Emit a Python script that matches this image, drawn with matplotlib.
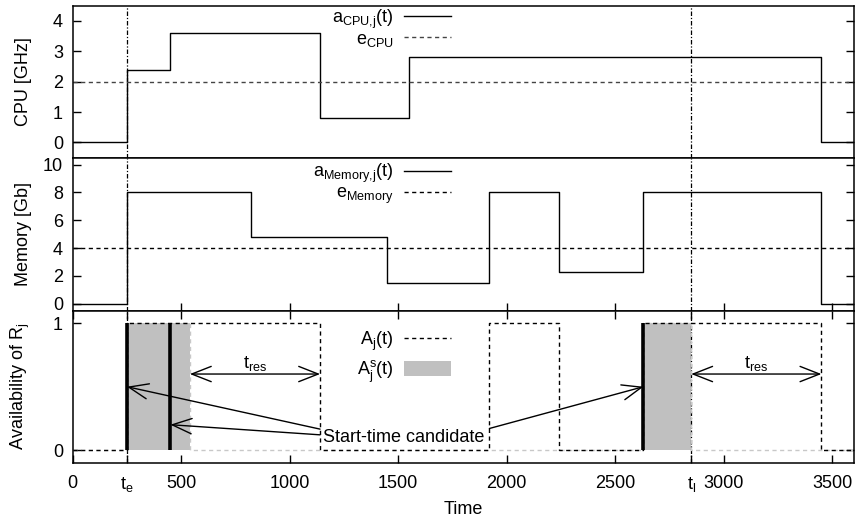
import matplotlib
matplotlib.use("Agg")
import matplotlib.pyplot as plt
from matplotlib.lines import Line2D
from matplotlib.patches import Patch

plt.rcParams['font.family'] = ['Liberation Sans', 'DejaVu Sans']
plt.rcParams['font.size'] = 13
plt.rcParams['mathtext.fontset'] = 'custom'
plt.rcParams['mathtext.rm'] = 'Liberation Sans'
plt.rcParams['mathtext.it'] = 'Liberation Sans:italic'

# data
t_e = 250
t_l = 2850
t_res = 600

cpu_t = [0, 250, 450, 1140, 1550, 3450, 3600]
cpu_v = [0, 2.4, 3.6, 0.8, 2.8, 0, 0]
e_cpu = 2

mem_t = [0, 250, 820, 1450, 1920, 2240, 2630, 3450, 3600]
mem_v = [0, 8, 4.8, 1.5, 8, 2.3, 8, 0, 0]
e_mem = 4

avail_t = [0, 250, 1140, 1920, 2240, 2630, 3450, 3600]
avail_v = [0, 1, 0, 1, 0, 1, 0, 0]

sched_t = [0, 250, 540, 2630, 2850, 3600]
sched_v = [0, 1, 0, 1, 0, 0]

candidates = [250, 450, 2630]

xticks = [0, t_e, 500, 1000, 1500, 2000, 2500, t_l, 3000, 3500]
xticklabels = ['0', r't$_\mathregular{e}$', '500', '1000', '1500', '2000',
               '2500', r't$_\mathregular{l}$', '3000', '3500']

dash = (0, (3, 2.5))
dashdot = (0, (3.6, 1.5, 1, 1.5))

fig = plt.figure(figsize=(8.58, 5.22), dpi=100)
left, width = 0.0847, 0.9106
ax1 = fig.add_axes([left, 0.6979, width, 0.2912])
ax2 = fig.add_axes([left, 0.4048, width, 0.2931])
ax3 = fig.add_axes([left, 0.1136, width, 0.2912])

for ax in (ax1, ax2, ax3):
    ax.set_xlim(0, 3600)
    for s in ax.spines.values():
        s.set_linewidth(1.1)
    ax.tick_params(axis='y', direction='in', length=6, width=1, right=True, pad=7)
    ax.tick_params(axis='x', direction='in', length=6, width=1, pad=9)
    ax.axvline(t_e, color='black', lw=0.9, ls=dashdot)
    ax.axvline(t_l, color='black', lw=0.9, ls=dashdot)
    ax.yaxis.set_label_coords(-0.052, 0.5)

# CPU
ax1.step(cpu_t, cpu_v, where='post', color='black', lw=1, label=r'a$_\mathregular{CPU{,}j}$(t)')
ax1.axhline(e_cpu, color='#444444', lw=1, ls=dash, label=r'e$_\mathregular{CPU}$')
ax1.set_ylim(-0.5, 4.5)
ax1.set_yticks([0, 1, 2, 3, 4])
ax1.set_xticks([])
ax1.set_ylabel('CPU [GHz]')

# Memory
ax2.step(mem_t, mem_v, where='post', color='black', lw=1, label=r'a$_\mathregular{Memory{,}j}$(t)')
ax2.axhline(e_mem, color='black', lw=1, ls=dash, label=r'e$_\mathregular{Memory}$')
ax2.set_ylim(-0.5, 10.5)
ax2.set_yticks([0, 2, 4, 6, 8, 10])
ax2.set_xticks([500, 1000, 1500, 2000, 2500, 3000, 3500])
ax2.tick_params(axis='x', labelbottom=False)
ax2.set_ylabel('Memory [Gb]')

ax1.legend(loc='upper right', bbox_to_anchor=(0.487, 1.0), frameon=False,
           markerfirst=False, handlelength=2.6, handletextpad=0.6,
           labelspacing=0.0, borderpad=0.1, borderaxespad=0)
ax2.legend(loc='upper right', bbox_to_anchor=(0.487, 0.985), frameon=False,
           markerfirst=False, handlelength=2.6, handletextpad=0.6,
           labelspacing=0.0, borderpad=0.1, borderaxespad=0)

# Availability
ax3.fill_between(sched_t, sched_v, step='post', color='#c0c0c0', lw=0)
ax3.step(sched_t, sched_v, where='post', color='#c8c8c8', lw=1, ls=dash)
ax3.step(avail_t, avail_v, where='post', color='black', lw=1, ls=dash)
ax3.vlines(candidates, 0, 1, color='black', lw=2.6)
ax3.set_ylim(-0.1, 1.1)
ax3.set_yticks([0, 1])
ax3.set_xticks(xticks)
ax3.set_xticklabels(xticklabels)
ax3.tick_params(axis='x', top=True)
ax3.set_ylabel(r'Availability of R$_\mathregular{j}$')
ax3.set_xlabel('Time', labelpad=5)

head = dict(arrowstyle='->,head_length=1.4,head_width=0.55', color='black',
            lw=1, mutation_scale=10, shrinkA=0, shrinkB=0)
dhead = dict(arrowstyle='<->,head_length=1.4,head_width=0.55', color='black',
             lw=1, mutation_scale=10, shrinkA=0, shrinkB=0)

ax3.annotate('', xy=(candidates[0], 0.5), xytext=(1140, 0.165), arrowprops=head)
ax3.annotate('', xy=(candidates[1], 0.2), xytext=(1140, 0.12), arrowprops=head)
ax3.annotate('', xy=(candidates[2], 0.5), xytext=(1920, 0.17), arrowprops=head)
ax3.text(1525, 0.1, 'Start-time candidate', ha='center', va='center')

ax3.annotate('', xy=(1140 - t_res, 0.6), xytext=(1140, 0.6), arrowprops=dhead)
ax3.annotate('', xy=(t_l, 0.6), xytext=(t_l + t_res, 0.6), arrowprops=dhead)
ax3.text(1140 - t_res / 2, 0.68, r't$_\mathregular{res}$', ha='center', va='center')
ax3.text(t_l + t_res / 2, 0.68, r't$_\mathregular{res}$', ha='center', va='center')

handles = [Line2D([], [], color='black', lw=1, ls=dash),
           Patch(facecolor='#c0c0c0', edgecolor='none')]
ax3.legend(handles, [r'A$_\mathregular{j}$(t)', r'A$_\mathregular{j}^\mathregular{s}$(t)'],
           loc='upper right', bbox_to_anchor=(0.487, 0.885), frameon=False,
           markerfirst=False, handlelength=2.6, handleheight=0.9,
           handletextpad=0.6, labelspacing=0.3, borderpad=0.1, borderaxespad=0)

fig.savefig('out.png', dpi=100)
